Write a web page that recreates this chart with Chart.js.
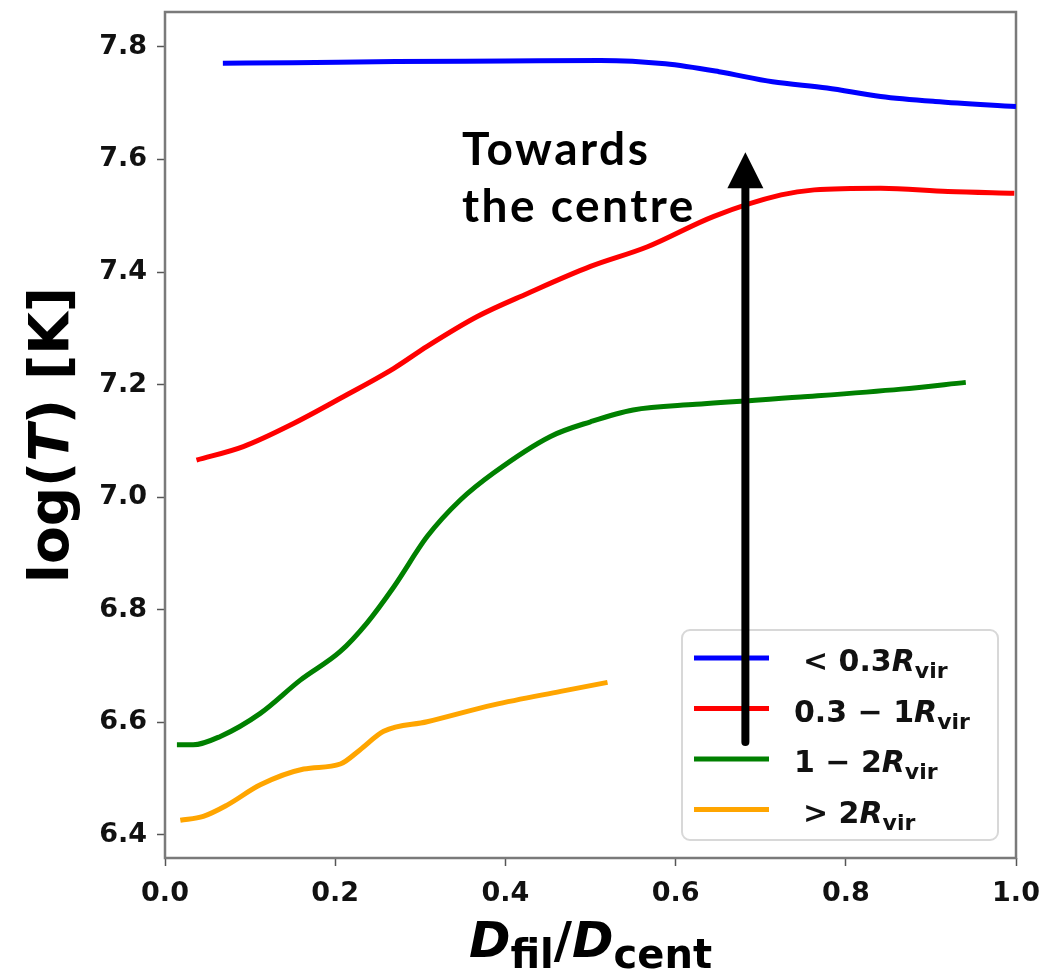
<!DOCTYPE html>
<html>
<head>
<meta charset="utf-8">
<script src="https://cdn.jsdelivr.net/npm/chart.js@4.4.1/dist/chart.umd.min.js"></script>
<style>
html,body{margin:0;padding:0;background:#fff;}
#wrap{width:1046px;height:978px;position:relative;}
</style>
</head>
<body>
<div id="wrap"><canvas id="c" width="1046" height="978"></canvas></div>
<script>
// ---- data ----
const blueX = [0.068,0.15,0.271,0.40,0.512,0.588,0.651,0.714,0.778,0.841,0.905,1.0];
const blueY = [7.771,7.772,7.774,7.775,7.776,7.770,7.756,7.738,7.727,7.712,7.703,7.694];
const redX = [0.037,0.092,0.151,0.21,0.269,0.308,0.367,0.426,0.5,0.567,0.645,0.724,0.763,0.841,0.92,0.998];
const redY = [7.066,7.090,7.131,7.179,7.229,7.268,7.321,7.362,7.410,7.445,7.499,7.537,7.546,7.549,7.543,7.540];
const greenX = [0.014,0.033,0.065,0.112,0.159,0.206,0.237,0.269,0.308,0.347,0.386,0.453,0.5,0.55,0.624,0.747,0.865,0.941];
const greenY = [6.560,6.560,6.575,6.616,6.675,6.726,6.776,6.841,6.930,6.995,7.043,7.108,7.134,7.155,7.165,7.178,7.192,7.204];
const orangeX = [0.018,0.045,0.073,0.112,0.163,0.206,0.229,0.257,0.308,0.386,0.465,0.520];
const orangeY = [6.426,6.433,6.453,6.489,6.517,6.526,6.551,6.584,6.601,6.631,6.655,6.671];

const seriesPrefix = ['< 0.3', '0.3 \u2212 1', '1 \u2212 2', '> 2'];
const seriesColors = ['#0000ff', '#ff0000', '#008000', '#ffa500'];
const xTicks = [0.0, 0.2, 0.4, 0.6, 0.8, 1.0];
const yTicks = [6.4, 6.6, 6.8, 7.0, 7.2, 7.4, 7.6, 7.8];
const annotationText = ['Towards', 'the centre'];
const annotationTextPos = [0.349, 7.590];   // data coords of first line baseline-left
const arrowFrom = [0.682, 6.565];
const arrowTo = [0.682, 7.613];

function pts(xs, ys){ return xs.map((x,i)=>({x:x, y:ys[i]})); }
const allX = [blueX, redX, greenX, orangeX];
const allY = [blueY, redY, greenY, orangeY];

const tickFont = {family:'"DejaVu Sans"', size:27, weight:'bold'};

function drawRich(ctx, parts, x, y){
  let cx = x;
  for (const p of parts){
    ctx.font = (p[2] ? 'italic ' : '') + 'bold ' + p[1] + 'px "DejaVu Sans"';
    ctx.fillText(p[0], cx, y + (p[3]||0));
    cx += ctx.measureText(p[0]).width;
  }
  return cx - x;
}
function richWidth(ctx, parts){
  let w = 0;
  for (const p of parts){
    ctx.font = (p[2] ? 'italic ' : '') + 'bold ' + p[1] + 'px "DejaVu Sans"';
    w += ctx.measureText(p[0]).width;
  }
  return w;
}

const decor = {
  id: 'decor',
  beforeDatasetsDraw(chart){
    const {ctx, chartArea:a} = chart;
    ctx.save();
    ctx.strokeStyle = '#7a7a7a';
    ctx.lineWidth = 2.5;
    ctx.strokeRect(a.left, a.top, a.right - a.left, a.bottom - a.top);
    ctx.restore();
  },
  afterDatasetsDraw(chart){
    const {ctx, chartArea:a, scales} = chart;
    const xs = scales.x, ys = scales.y;
    ctx.save();
    // legend box
    const bx = 682, by = 630, bw = 316, bh = 210, r = 8;
    ctx.fillStyle = 'rgba(255,255,255,0.85)';
    ctx.strokeStyle = '#d8d8d8';
    ctx.lineWidth = 2;
    ctx.beginPath();
    ctx.roundRect(bx, by, bw, bh, r);
    ctx.fill(); ctx.stroke();
    ctx.textBaseline = 'alphabetic';
    chart.data.datasets.forEach((ds, i) => {
      const ly = by + 28 + i * 50.5;
      ctx.strokeStyle = ds.borderColor;
      ctx.lineWidth = 5;
      ctx.beginPath(); ctx.moveTo(694, ly); ctx.lineTo(769, ly); ctx.stroke();
      const pre = seriesPrefix[i];
      const lx = (pre.startsWith('<') || pre.startsWith('>')) ? 803 : 794;
      ctx.fillStyle = '#111';
      drawRich(ctx, [[pre, 30, false, 0],['R', 30, true, 0],['vir', 22, false, 7]], lx, ly + 13);
    });
    // arrow
    const ax = xs.getPixelForValue(arrowFrom[0]);
    const ay0 = ys.getPixelForValue(arrowFrom[1]);
    const ay1 = ys.getPixelForValue(arrowTo[1]);
    ctx.strokeStyle = '#000';
    ctx.fillStyle = '#000';
    ctx.lineWidth = 8;
    ctx.lineCap = 'round';
    ctx.beginPath(); ctx.moveTo(ax, ay0); ctx.lineTo(ax, ay1 + 30); ctx.stroke();
    ctx.lineCap = 'butt';
    ctx.beginPath();
    ctx.moveTo(ax, ay1);
    ctx.lineTo(ax - 18, ay1 + 36);
    ctx.lineTo(ax + 18, ay1 + 36);
    ctx.closePath(); ctx.fill();
    // annotation text
    ctx.font = 'bold 46px Lato';
    ctx.letterSpacing = '2.5px';
    const tx = xs.getPixelForValue(annotationTextPos[0]);
    const ty = ys.getPixelForValue(annotationTextPos[1]);
    annotationText.forEach((t, i) => ctx.fillText(t, tx, ty + i * 57));
    ctx.restore();
  },
  afterDraw(chart){
    const {ctx, chartArea:a} = chart;
    ctx.save();
    ctx.fillStyle = '#000';
    ctx.textBaseline = 'alphabetic';
    const xparts = [['D',50,true,0],['fil',40,false,11],['/',50,false,0],['D',50,true,0],['cent',40,false,11]];
    const w = richWidth(ctx, xparts);
    drawRich(ctx, xparts, (a.left + a.right)/2 - w/2, 957);
    const yparts = [['log(',55,false,0],['T',55,true,0],[') [K]',55,false,0]];
    const wy = richWidth(ctx, yparts);
    ctx.translate(68, (a.top + a.bottom)/2);
    ctx.rotate(-Math.PI/2);
    drawRich(ctx, yparts, -wy/2, 0);
    ctx.restore();
  }
};

const datasets = allX.map((xs, i) => ({
  label: seriesPrefix[i] + 'Rvir',
  data: pts(xs, allY[i]),
  borderColor: seriesColors[i],
  backgroundColor: seriesColors[i],
  borderWidth: 5,
  pointRadius: 0,
  cubicInterpolationMode: 'monotone',
  fill: false
}));

function zeroPad(s){ s.paddingTop = 0; s.paddingBottom = 0; s.paddingLeft = 0; s.paddingRight = 0; }

new Chart(document.getElementById('c'), {
  type: 'line',
  data: { datasets },
  options: {
    responsive: false,
    animation: false,
    devicePixelRatio: 1,
    layout: { padding: { top: 12, right: 30, left: 0, bottom: 0 } },
    plugins: { legend: { display: false }, tooltip: { enabled: false } },
    scales: {
      x: {
        type: 'linear', min: 0, max: 1.0,
        afterBuildTicks: s => { s.ticks = xTicks.map(v => ({value: v})); },
        afterFit: s => { s.height = 120; zeroPad(s); },
        grid: { display: true, drawOnChartArea: false, drawTicks: true, tickLength: 8, color: '#555', tickWidth: 1.5 },
        border: { display: false },
        ticks: { font: tickFont, color: '#111', padding: 12, maxRotation: 0,
                 callback: v => Number(v).toFixed(1) }
      },
      y: {
        type: 'linear', min: 6.359, max: 7.862,
        afterBuildTicks: s => { s.ticks = yTicks.map(v => ({value: v})); },
        afterFit: s => { s.width = 165; zeroPad(s); },
        grid: { display: true, drawOnChartArea: false, drawTicks: true, tickLength: 8, color: '#555', tickWidth: 1.5 },
        border: { display: false },
        ticks: { font: tickFont, color: '#111', padding: 10,
                 callback: v => Number(v).toFixed(1) }
      }
    }
  },
  plugins: [decor]
});
</script>
</body>
</html>
